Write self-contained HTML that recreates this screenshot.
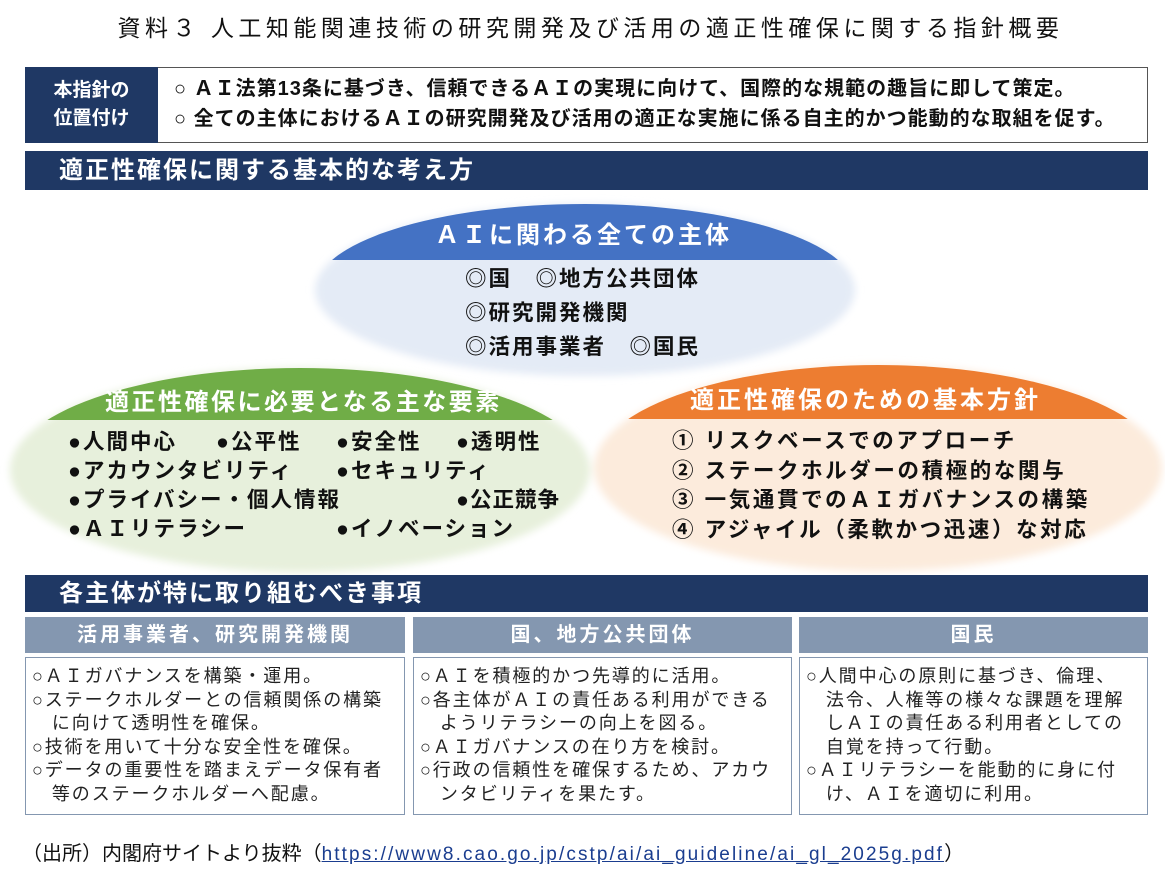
<!DOCTYPE html>
<html><head><meta charset="utf-8"><style>
body{margin:0;width:1165px;height:880px;background:#fff;position:relative;overflow:hidden;font-family:"Liberation Sans","Noto Sans CJK JP",sans-serif;}
.a{position:absolute;white-space:nowrap;}
.b{font-weight:bold;}
.hd{position:absolute;background:#1f3864;color:#fff;font-size:24px;font-weight:bold;letter-spacing:2px;}
.col{position:absolute;}
.ch{position:absolute;left:0;right:0;top:0;height:36px;background:#8497b0;color:#fff;font-size:20px;letter-spacing:3px;text-align:center;line-height:36px;font-weight:bold;}
.cb{position:absolute;left:0;right:0;top:40px;bottom:0;border:1.5px solid #8497b0;background:#fff;font-size:18px;letter-spacing:1.9px;line-height:23.6px;padding:7px 6px;box-sizing:border-box;color:#222;white-space:nowrap;}
.g{font-size:21.5px;font-weight:bold;color:#111;letter-spacing:2px;}
</style></head><body>
<div class="a" style="left:8px;width:1165px;top:9px;text-align:center;font-size:23px;letter-spacing:4.5px;color:#111;">資料３ 人工知能関連技術の研究開発及び活用の適正性確保に関する指針概要</div>

<div class="a" style="left:25px;top:67px;width:1123px;height:76px;border:1.5px solid #555;box-sizing:border-box;"></div>
<div class="a b" style="left:25px;top:67px;width:133px;height:76px;background:#1f3864;color:#fff;font-size:19px;line-height:28px;text-align:center;padding-top:10px;box-sizing:border-box;">本指針の<br>位置付け</div>
<div class="a b" style="left:174px;top:74px;font-size:20px;letter-spacing:1px;line-height:30px;color:#111;">○ ＡＩ法第13条に基づき、信頼できるＡＩの実現に向けて、国際的な規範の趣旨に即して策定。<br>○ 全ての主体におけるＡＩの研究開発及び活用の適正な実施に係る自主的かつ能動的な取組を促す。</div>

<div class="hd" style="left:25px;top:151px;width:1123px;height:39px;line-height:39px;padding-left:34px;box-sizing:border-box;">適正性確保に関する基本的な考え方</div>

<svg class="a" style="left:0;top:0" width="1165" height="880">
<defs>
<filter id="bl"><feGaussianBlur stdDeviation="4"/></filter>
<clipPath id="cb"><ellipse cx="585" cy="290" rx="270" ry="86"/></clipPath>
<clipPath id="cg"><ellipse cx="300" cy="470" rx="290" ry="102"/></clipPath>
<clipPath id="co"><ellipse cx="878" cy="468" rx="284" ry="103"/></clipPath>
</defs>
<g filter="url(#bl)">
<ellipse cx="585" cy="290" rx="270" ry="86" fill="#e4ebf6"/>
</g>
<rect x="300" y="200" width="570" height="60" fill="#4472c4" clip-path="url(#cb)"/>
<g filter="url(#bl)">
<ellipse cx="300" cy="470" rx="290" ry="102" fill="#e7f0dc"/>
<ellipse cx="878" cy="468" rx="284" ry="103" fill="#fcebdc"/>
</g>
<rect x="0" y="360" width="600" height="60" fill="#70ad47" clip-path="url(#cg)"/>
<rect x="590" y="360" width="580" height="59" fill="#ed7d31" clip-path="url(#co)"/>
</svg>

<div class="a b" style="left:435px;top:215px;font-size:24px;letter-spacing:3px;color:#fff;">ＡＩに関わる全ての主体</div>
<div class="a g" style="left:465px;top:262px;line-height:34px;">◎国　◎地方公共団体<br>◎研究開発機関<br>◎活用事業者　◎国民</div>

<div class="a b" style="left:105px;top:382px;font-size:24px;letter-spacing:2.5px;color:#fff;">適正性確保に必要となる主な要素</div>
<div class="a g" style="left:68px;top:425px;">●人間中心</div>
<div class="a g" style="left:216px;top:425px;">●公平性</div>
<div class="a g" style="left:336px;top:425px;">●安全性</div>
<div class="a g" style="left:456px;top:425px;">●透明性</div>
<div class="a g" style="left:68px;top:454px;">●アカウンタビリティ</div>
<div class="a g" style="left:336px;top:454px;">●セキュリティ</div>
<div class="a g" style="left:68px;top:483px;">●プライバシー・個人情報</div>
<div class="a g" style="left:456px;top:483px;letter-spacing:1px;">●公正競争</div>
<div class="a g" style="left:68px;top:512px;">●ＡＩリテラシー</div>
<div class="a g" style="left:336px;top:512px;">●イノベーション</div>

<div class="a b" style="left:690px;top:380px;font-size:24px;letter-spacing:3px;color:#fff;">適正性確保のための基本方針</div>
<div class="a g" style="left:672px;top:427px;line-height:29.5px;letter-spacing:2.6px;">① リスクベースでのアプローチ<br>② ステークホルダーの積極的な関与<br>③ 一気通貫でのＡＩガバナンスの構築<br>④ アジャイル（柔軟かつ迅速）な対応</div>

<div class="hd" style="left:25px;top:575px;width:1123px;height:37px;line-height:37px;padding-left:34px;box-sizing:border-box;">各主体が特に取り組むべき事項</div>

<div class="col" style="left:25px;top:617px;width:380px;height:198px;">
<div class="ch">活用事業者、研究開発機関</div>
<div class="cb">○ＡＩガバナンスを構築・運用。<br>○ステークホルダーとの信頼関係の構築<br>　に向けて透明性を確保。<br>○技術を用いて十分な安全性を確保。<br>○データの重要性を踏まえデータ保有者<br>　等のステークホルダーへ配慮。</div></div>
<div class="col" style="left:413px;top:617px;width:379px;height:198px;">
<div class="ch">国、地方公共団体</div>
<div class="cb">○ＡＩを積極的かつ先導的に活用。<br>○各主体がＡＩの責任ある利用ができる<br>　ようリテラシーの向上を図る。<br>○ＡＩガバナンスの在り方を検討。<br>○行政の信頼性を確保するため、アカウ<br>　ンタビリティを果たす。</div></div>
<div class="col" style="left:799px;top:617px;width:349px;height:198px;">
<div class="ch">国民</div>
<div class="cb">○人間中心の原則に基づき、倫理、<br>　法令、人権等の様々な課題を理解<br>　しＡＩの責任ある利用者としての<br>　自覚を持って行動。<br>○ＡＩリテラシーを能動的に身に付<br>　け、ＡＩを適切に利用。</div></div>

<div class="a" style="left:22px;top:837px;font-size:20px;color:#111;">（出所）内閣府サイトより抜粋（<span style="color:#1a3d8f;text-decoration:underline;letter-spacing:2.1px;font-size:19px;">https://www8.cao.go.jp/cstp/ai/ai_guideline/ai_gl_2025g.pdf</span>）</div>
</body></html>
